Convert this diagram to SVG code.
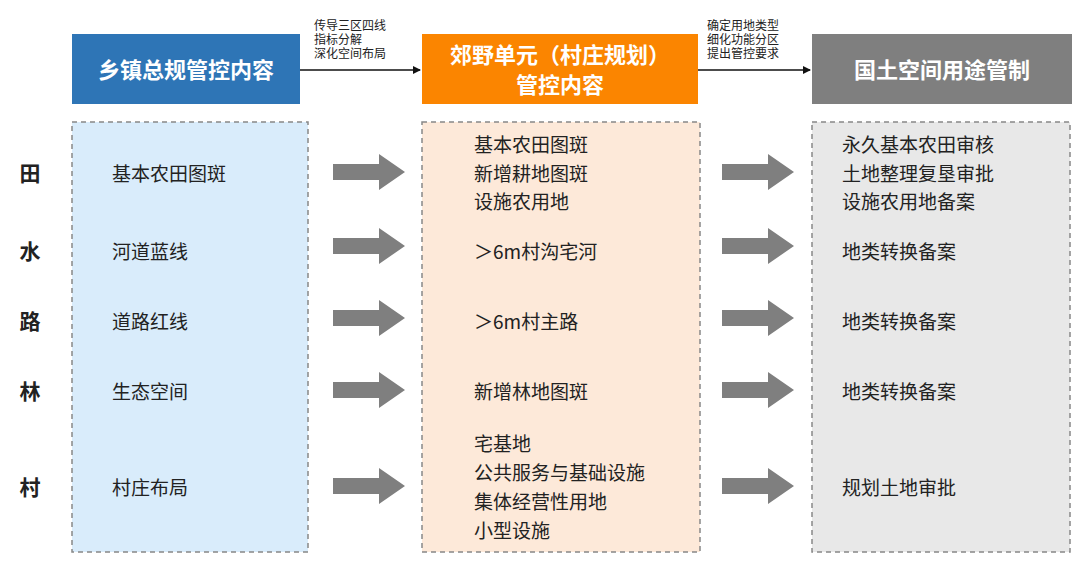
<svg xmlns="http://www.w3.org/2000/svg" width="1080" height="561" viewBox="0 0 1080 561">
<defs>
<style>
text{font-family:"Noto Sans CJK SC","Liberation Sans",sans-serif;fill:#222}
.h{font-size:22px;font-weight:bold;fill:#fff;text-anchor:middle}
.t{font-size:19px}
.s{font-size:12px}
.r{font-size:21px;font-weight:bold;text-anchor:middle}
.p{stroke:#888;stroke-width:1.5;stroke-dasharray:5,4}
</style>
<marker id="a" markerWidth="8" markerHeight="8" refX="7" refY="4" orient="auto" markerUnits="userSpaceOnUse"><path d="M0,0L8,4L0,8z" fill="#111"/></marker>
<path id="ba" d="M0,-8H46V-18L72,0L46,18V8H0z" fill="#7f7f7f"/>
</defs>
<rect width="1080" height="561" fill="#fff"/>
<g id="n1"><rect x="72" y="34" width="228" height="70" fill="#2e75b6"/><text class="h" x="186" y="78">乡镇总规管控内容</text></g>
<g id="n2"><rect x="422" y="34" width="276" height="70" fill="#fb8500"/><text class="h" x="560" y="63">郊野单元（村庄规划）</text><text class="h" x="560" y="93">管控内容</text></g>
<g id="n3"><rect x="812" y="34" width="260" height="70" fill="#7f7f7f"/><text class="h" x="942" y="78">国土空间用途管制</text></g>
<g id="panels">
<rect class="p" x="72" y="122" width="236" height="430" fill="#d9ecfb"/>
<rect class="p" x="422" y="122" width="278" height="430" fill="#fde9d9"/>
<rect class="p" x="812" y="122" width="258" height="430" fill="#e8e8e8"/>
</g>
<g id="connectors">
<line x1="300" y1="70" x2="420" y2="70" stroke="#111" stroke-width="1.5" marker-end="url(#a)"/>
<line x1="698" y1="70" x2="810" y2="70" stroke="#111" stroke-width="1.5" marker-end="url(#a)"/>
<use href="#ba" x="333" y="172"/><use href="#ba" x="333" y="246"/><use href="#ba" x="333" y="318"/><use href="#ba" x="333" y="390"/><use href="#ba" x="333" y="486"/>
<use href="#ba" x="722" y="172"/><use href="#ba" x="722" y="246"/><use href="#ba" x="722" y="318"/><use href="#ba" x="722" y="390"/><use href="#ba" x="722" y="486"/>
</g>
<g id="labels">
<text class="s"><tspan x="314" y="30">传导三区四线</tspan><tspan x="314" y="44">指标分解</tspan><tspan x="314" y="58">深化空间布局</tspan></text>
<text class="s"><tspan x="707" y="30">确定用地类型</tspan><tspan x="707" y="44">细化功能分区</tspan><tspan x="707" y="58">提出管控要求</tspan></text>
</g>
<g id="rows">
<text class="r" x="30" y="181">田</text><text class="r" x="30" y="259">水</text><text class="r" x="30" y="329">路</text><text class="r" x="30" y="399">林</text><text class="r" x="30" y="495">村</text>
<text class="t" x="112" y="181">基本农田图斑</text><text class="t" x="112" y="259">河道蓝线</text><text class="t" x="112" y="329">道路红线</text><text class="t" x="112" y="399">生态空间</text><text class="t" x="112" y="495">村庄布局</text>
<text class="t" x="474" y="152">基本农田图斑</text><text class="t" x="474" y="181">新增耕地图斑</text><text class="t" x="474" y="209">设施农用地</text>
<text class="t" x="474" y="259">＞6m村沟宅河</text><text class="t" x="474" y="329">＞6m村主路</text><text class="t" x="474" y="399">新增林地图斑</text>
<text class="t" x="474" y="451">宅基地</text><text class="t" x="474" y="480">公共服务与基础设施</text><text class="t" x="474" y="509">集体经营性用地</text><text class="t" x="474" y="538">小型设施</text>
<text class="t" x="842" y="152">永久基本农田审核</text><text class="t" x="842" y="181">土地整理复垦审批</text><text class="t" x="842" y="209">设施农用地备案</text>
<text class="t" x="842" y="259">地类转换备案</text><text class="t" x="842" y="329">地类转换备案</text><text class="t" x="842" y="399">地类转换备案</text><text class="t" x="842" y="495">规划土地审批</text>
</g>
</svg>
